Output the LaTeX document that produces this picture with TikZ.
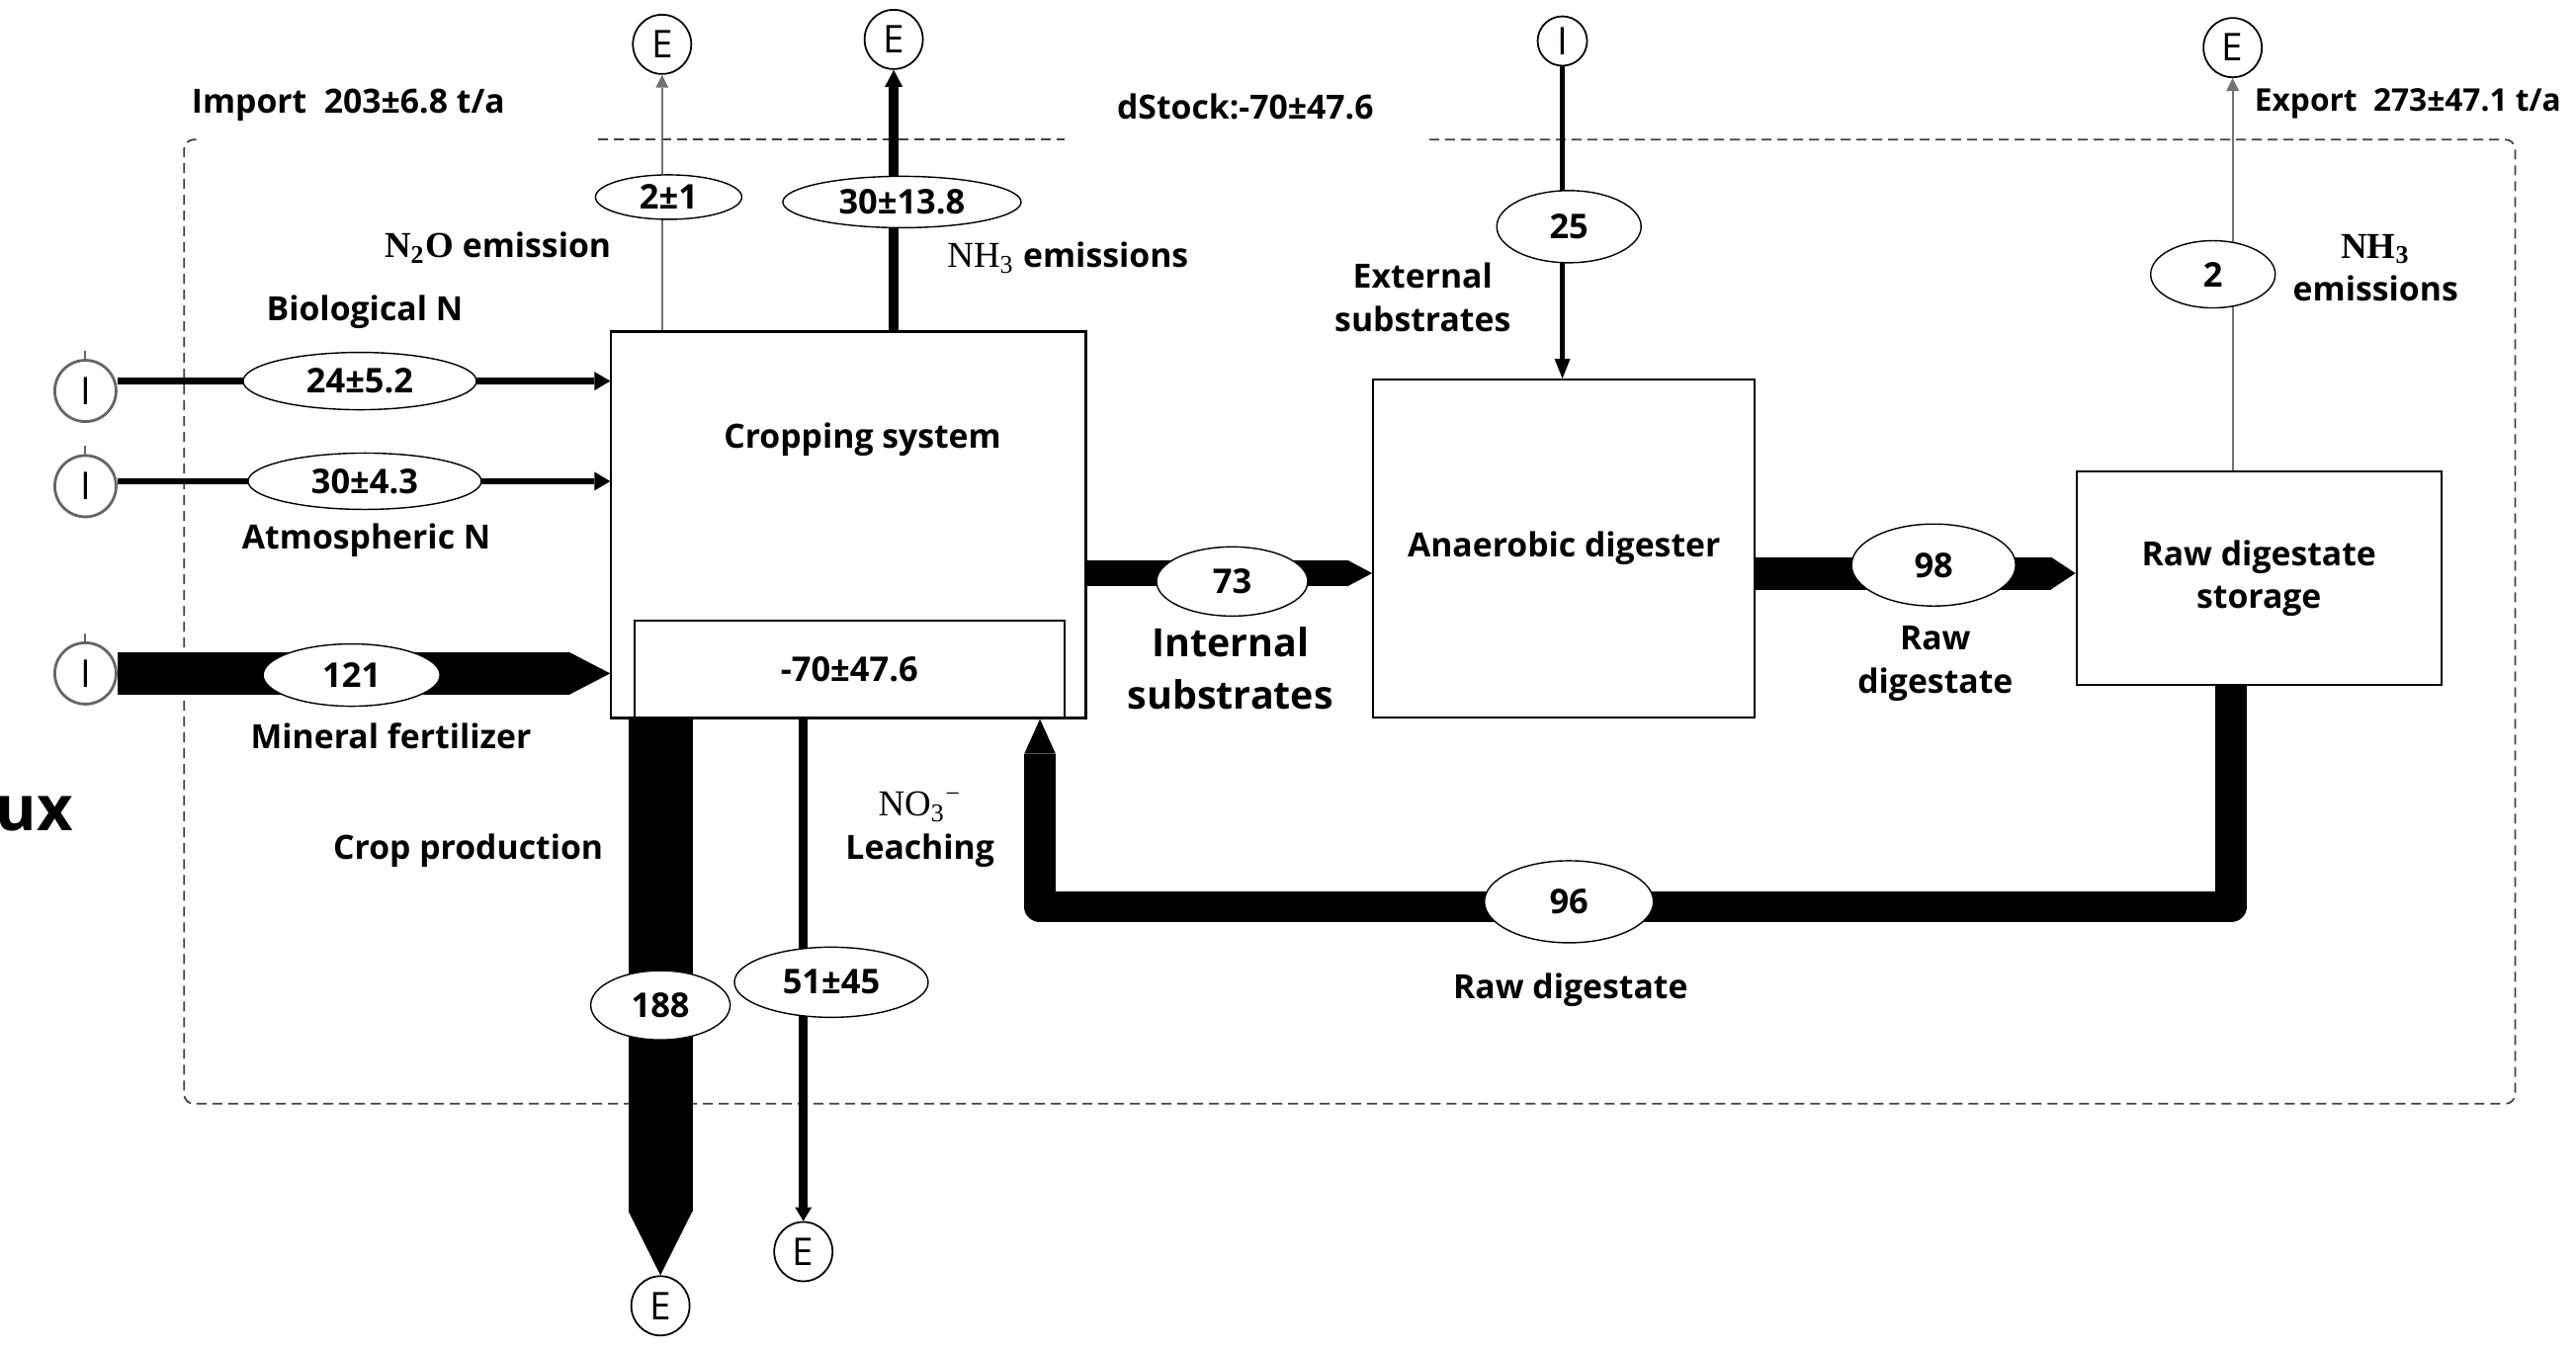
\documentclass[tikz,border=0pt]{standalone}
\usepackage{fontspec}
\setmainfont{Open Sans}
\newfontfamily\serf{Liberation Serif}
\usetikzlibrary{arrows.meta,shapes.geometric,calc}
\pgfdeclarelayer{bg}
\pgfsetlayers{bg,main}
\begin{document}
\begin{tikzpicture}[x=0.01662cm,y=-0.01662cm,
  lbl/.style={font=\bfseries\fontsize{9.6}{12.3}\selectfont, align=center, inner sep=0pt},
  num/.style={ellipse, draw, line width=0.4pt, fill=white, inner sep=0pt, font=\bfseries\fontsize{9.8}{12}\selectfont},
  box/.style={draw, line width=0.6pt, fill=white, inner sep=0pt, align=center, font=\bfseries\fontsize{9.6}{12.3}\selectfont},
  inod/.style={circle, draw=black!60, line width=0.8pt, fill=white, minimum size=0.62cm, inner sep=0pt, font=\fontsize{11}{11}\selectfont},
  enod/.style={ellipse, draw, line width=0.5pt, fill=white, minimum width=0.59cm, minimum height=0.6cm, inner sep=0pt, font=\fontsize{11}{11}\selectfont},
  frame/.style={draw=black!75, line width=0.5pt, dash pattern=on 0.1cm off 0.06cm},
  thinflow/.style={draw=black!55, line width=0.5pt, -{Triangle[length=0.13cm,width=0.13cm,line width=0pt]}}
]
\useasboundingbox (0,0) rectangle (1568,822);

% boxes
\node[box, minimum width=4.80cm, minimum height=3.91cm] (crop) at (516.5,319.5) {};
\node[box, minimum width=4.35cm, minimum height=0.98cm, font=\bfseries\fontsize{9.8}{12}\selectfont] (stock) at (517,407.5) {-70±47.6};
\node[lbl] (croptxt) at (525,267.5) {Cropping system};
\node[box, minimum width=3.86cm, minimum height=3.42cm] (ad) at (952,334) {Anaerobic digester};
\node[box, minimum width=3.69cm, minimum height=2.16cm] (st) at (1375,352) {Raw digestate\\storage};

% import / export circles
\node[inod] (I1) at (52,238) {I};
\node[inod] (I2) at (52,296) {I};
\node[inod] (I3) at (52,410) {I};
\node[inod, draw=black, line width=0.5pt, minimum size=0.5cm] (I4) at (951,25) {I};
\node[enod] (E1) at (403,27) {E};
\node[enod] (E2) at (544,24) {E};
\node[enod] (E3) at (1359,29) {E};
\node[enod] (E5) at (402,795) {E};
\node[enod] (E6) at (489,762) {E};

% flow values
\node[num, minimum width=2.36cm, minimum height=0.58cm] (e24) at (219,232) {24±5.2};
\node[num, minimum width=2.36cm, minimum height=0.57cm] (e30) at (222,293) {30±4.3};
\node[num, minimum width=1.79cm, minimum height=0.63cm] (e121) at (214,411) {121};
\node[num, minimum width=1.48cm, minimum height=0.45cm] (e21) at (407,120) {2±1};
\node[num, minimum width=2.41cm, minimum height=0.52cm] (e3013) at (549,123) {30±13.8};
\node[num, minimum width=1.46cm, minimum height=0.73cm] (e25) at (955,138) {25};
\node[num, minimum width=1.26cm, minimum height=0.68cm] (e2) at (1347,167) {2};
\node[num, minimum width=1.53cm, minimum height=0.70cm] (e73) at (750,354) {73};
\node[num, minimum width=1.66cm, minimum height=0.83cm] (e98) at (1177,344) {98};
\node[num, minimum width=1.71cm, minimum height=0.83cm] (e96) at (955,549) {96};
\node[num, minimum width=1.41cm, minimum height=0.70cm] (e188) at (402,612) {188};
\node[num, minimum width=1.96cm, minimum height=0.71cm] (e51) at (506,598) {51±45};

% labels
\node[lbl] (timp) at (212,64) {Import\ \ 203±6.8 t/a};
\node[lbl] (tds) at (758,65) {dStock:-70±47.6};
\node[lbl, anchor=west, font=\bfseries\fontsize{9}{11}\selectfont] (texp) at (1372,63) {Export\ \ 273±47.1 t/a};
\node[lbl, font=\bfseries\fontsize{18}{18}\selectfont, anchor=base east] (tux) at (45,506) {ux};
\node[lbl] (tbio) at (222,190) {Biological N};
\node[lbl] (tatm) at (223,329) {Atmospheric N};
\node[lbl] (tmin) at (238,448) {Mineral fertilizer};
\node[lbl] (tn2o) at (303,151) {{\serf\fontsize{10.5}{12}\selectfont N\textsubscript{2}O} emission};
\node[lbl] (tnh3a) at (650,157) {{\serf\mdseries\fontsize{10.5}{12}\selectfont NH\textsubscript{3}} emissions};
\node[lbl] (tex1) at (866,181) {External\\substrates};
\node[lbl] (tnh3b) at (1446,163) {{\serf\fontsize{10.5}{12}\selectfont NH\textsubscript{3}}\\emissions};
\node[lbl, font=\bfseries\fontsize{11.2}{15}\selectfont] (tint) at (749,407) {Internal\\substrates};
\node[lbl] (trd1) at (1178,404) {Raw\\digestate};
\node[lbl] (trd2) at (956,603) {Raw digestate};
\node[lbl] (tcp) at (285,518) {Crop production};
\node[lbl] (tno3) at (560,505) {{\serf\mdseries\fontsize{10.5}{12}\selectfont NO\textsubscript{3}\textsuperscript{−}}\\Leaching};

% helper coordinates for band levels
\coordinate (b73) at (750,349);
\coordinate (b98) at (1177,349);
\coordinate (r1) at (1358,552);
\coordinate (r2) at (633,552);

\begin{pgfonlayer}{bg}
% system boundary
\draw[frame] (364,85) -- (648,85);
\draw[frame, rounded corners=0.1cm] (870,85) -- (1531,85) -- (1531,672) -- (112,672) -- (112,85) -- (122,85);
% ticks on import circles
\foreach \n in {I1,I2,I3} \draw[black!60, line width=0.6pt] (\n.north) -- ++(0,-5);
% inputs
\draw[line width=0.067cm, -{Triangle[length=0.16cm,width=0.19cm,line width=0pt]}] (I1.east |- e24) -- (crop.west |- e24);
\draw[line width=0.067cm, -{Triangle[length=0.16cm,width=0.19cm,line width=0pt]}] (I2.east |- e30) -- (crop.west |- e30);
\draw[line width=0.43cm, -{Triangle[length=0.415cm,width=0.43cm,line width=0pt]}] (I3.east) -- (crop.west |- I3.east);
\draw[line width=0.05cm, -{Triangle[length=0.2cm,width=0.16cm,line width=0pt]}] (I4.south) -- (I4 |- ad.north);
% emissions
\draw[thinflow] (E1 |- crop.north) -- (E1.south);
\draw[line width=0.1cm, -{Triangle[length=0.17cm,width=0.18cm,line width=0pt]}] (E2 |- crop.north) -- (E2.south);
\draw[thinflow] (E3 |- st.north) -- (E3.south);
\draw[line width=0.648cm, -{Triangle[length=0.648cm,width=0.648cm,line width=0pt]}] (E5 |- crop.south) -- (E5.north);
\draw[line width=0.09cm, -{Triangle[length=0.14cm,width=0.17cm,line width=0pt]}] (E6 |- crop.south) -- (E6.north);
% internal flows
\draw[line width=0.266cm, -{Triangle[length=0.25cm,width=0.266cm,line width=0pt]}] (crop.east |- b73) -- (ad.west |- b73);
\draw[line width=0.33cm, -{Triangle[length=0.25cm,width=0.33cm,line width=0pt]}] (ad.east |- b98) -- (st.west |- b98);
\draw[line width=0.316cm, line join=round, -{Triangle[length=0.35cm,width=0.316cm,line width=0pt]}] (st.south -| r1) -- (r1) -- (r2) -- (r2 |- crop.south);
\end{pgfonlayer}
\end{tikzpicture}
\end{document}
